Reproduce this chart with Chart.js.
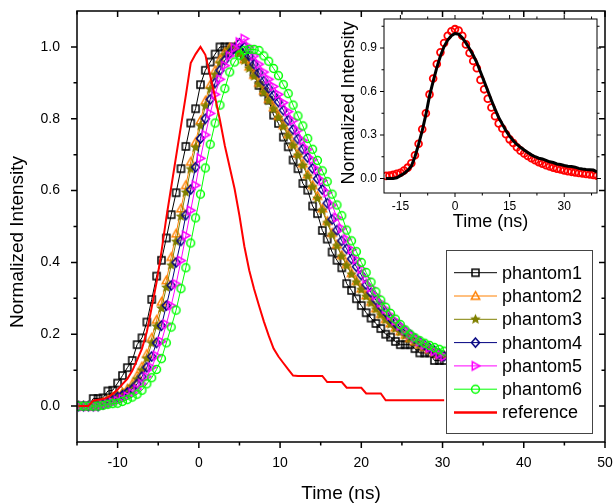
<!DOCTYPE html>
<html>
<head>
<meta charset="utf-8">
<script src="https://cdn.jsdelivr.net/npm/chart.js@4.4.1/dist/chart.umd.min.js"></script>
<style>
  html, body { margin: 0; padding: 0; background: #fff; }
  #wrap { position: relative; width: 616px; height: 504px; }
  #main { position: absolute; left: 0; top: 0; }
  #inset { position: absolute; left: 330px; top: 8px; }
</style>
</head>
<body>
<div id="wrap">
  <canvas id="main" width="616" height="504"></canvas>
  <canvas id="inset" width="275" height="225"></canvas>
</div>
<script>
'use strict';

// main panel: sample times (ns) and normalized intensities
const time = [
  -14.8, -14.2, -13.6, -13.0, -12.4, -11.8, -11.2, -10.6, -10.0, -9.4,
  -8.8, -8.2, -7.6, -7.0, -6.4, -5.8, -5.2, -4.6, -4.0, -3.4,
  -2.8, -2.2, -1.6, -1.0, -0.4, 0.2, 0.8, 1.4, 2.0, 2.6,
  3.2, 3.8, 4.4, 5.0, 5.6, 6.2, 6.8, 7.4, 8.0, 8.6,
  9.2, 9.8, 10.4, 11.0, 11.6, 12.2, 12.8, 13.4, 14.0, 14.6,
  15.2, 15.8, 16.4, 17.0, 17.6, 18.2, 18.8, 19.4, 20.0, 20.6,
  21.2, 21.8, 22.4, 23.0, 23.6, 24.2, 24.8, 25.4, 26.0, 26.6,
  27.2, 27.8, 28.4, 29.0, 29.6, 30.2
];
const phantom1 = [
  0, 0, 0, 0.021, 0.021, 0.023, 0.042, 0.044, 0.064, 0.085,
  0.107, 0.127, 0.171, 0.19, 0.234, 0.297, 0.362, 0.406, 0.468, 0.533,
  0.594, 0.661, 0.723, 0.788, 0.828, 0.895, 0.935, 0.958, 0.98, 1.0,
  1.0, 1.0, 0.995, 0.985, 0.975, 0.958, 0.925, 0.893, 0.875, 0.852,
  0.81, 0.787, 0.749, 0.722, 0.685, 0.661, 0.62, 0.601, 0.557, 0.536,
  0.489, 0.465, 0.429, 0.406, 0.385, 0.341, 0.322, 0.299, 0.28, 0.26,
  0.245, 0.23, 0.216, 0.2, 0.192, 0.18, 0.171, 0.171, 0.171, 0.16,
  0.148, 0.148, 0.148, 0.127, 0.127, 0.127
];
const phantom2 = [
  0, 0, 0, 0, 0.004, 0.01, 0.017, 0.025, 0.03, 0.038,
  0.048, 0.062, 0.085, 0.11, 0.145, 0.19, 0.24, 0.29, 0.35, 0.415,
  0.48, 0.55, 0.615, 0.68, 0.735, 0.795, 0.85, 0.895, 0.935, 0.965,
  0.985, 0.998, 1.0, 0.985, 0.965, 0.945, 0.922, 0.9, 0.878, 0.855,
  0.832, 0.808, 0.782, 0.757, 0.73, 0.703, 0.675, 0.645, 0.615, 0.585,
  0.55, 0.515, 0.482, 0.45, 0.42, 0.395, 0.37, 0.348, 0.327, 0.308,
  0.29, 0.272, 0.256, 0.242, 0.23, 0.218, 0.208, 0.198, 0.189, 0.18,
  0.172, 0.165, 0.158, 0.151, 0.145, 0.14
];
const phantom3 = [
  0, 0, 0, 0, 0.003, 0.008, 0.014, 0.02, 0.026, 0.033,
  0.042, 0.055, 0.075, 0.1, 0.132, 0.175, 0.222, 0.272, 0.33, 0.392,
  0.458, 0.528, 0.595, 0.66, 0.72, 0.78, 0.835, 0.882, 0.922, 0.955,
  0.978, 0.993, 0.998, 0.982, 0.962, 0.94, 0.918, 0.896, 0.873, 0.85,
  0.827, 0.803, 0.778, 0.752, 0.725, 0.698, 0.67, 0.64, 0.61, 0.578,
  0.545, 0.51, 0.477, 0.446, 0.417, 0.391, 0.367, 0.345, 0.324, 0.305,
  0.287, 0.27, 0.254, 0.24, 0.228, 0.216, 0.206, 0.196, 0.187, 0.179,
  0.171, 0.164, 0.157, 0.15, 0.144, 0.139
];
const phantom4 = [
  0, 0, 0, 0, 0, 0.005, 0.01, 0.017, 0.025, 0.03,
  0.038, 0.047, 0.062, 0.082, 0.108, 0.138, 0.176, 0.224, 0.28, 0.336,
  0.4, 0.46, 0.532, 0.603, 0.665, 0.745, 0.8, 0.854, 0.9, 0.935,
  0.963, 0.982, 0.997, 1.01, 1.0, 0.975, 0.952, 0.928, 0.905, 0.885,
  0.865, 0.847, 0.824, 0.796, 0.77, 0.744, 0.716, 0.692, 0.662, 0.633,
  0.603, 0.565, 0.52, 0.49, 0.46, 0.438, 0.41, 0.388, 0.365, 0.338,
  0.316, 0.295, 0.277, 0.261, 0.244, 0.231, 0.22, 0.209, 0.199, 0.188,
  0.179, 0.17, 0.162, 0.154, 0.146, 0.139
];
const phantom5 = [
  0, 0, 0, 0, 0, 0.003, 0.006, 0.01, 0.015, 0.02,
  0.027, 0.036, 0.047, 0.062, 0.082, 0.108, 0.14, 0.18, 0.228, 0.28,
  0.34, 0.405, 0.475, 0.545, 0.615, 0.69, 0.755, 0.815, 0.868, 0.91,
  0.948, 0.975, 0.997, 1.013, 1.023, 1.0, 0.975, 0.952, 0.93, 0.91,
  0.89, 0.868, 0.845, 0.82, 0.795, 0.768, 0.74, 0.715, 0.686, 0.658,
  0.628, 0.595, 0.56, 0.525, 0.495, 0.465, 0.436, 0.408, 0.382, 0.355,
  0.33, 0.308, 0.288, 0.27, 0.253, 0.238, 0.224, 0.212, 0.2, 0.19,
  0.18, 0.171, 0.162, 0.153, 0.145, 0.138
];
const phantom6 = [
  0, 0, 0, 0, 0, 0.002, 0.005, 0.007, 0.008, 0.013,
  0.018, 0.025, 0.033, 0.044, 0.062, 0.079, 0.102, 0.132, 0.176, 0.22,
  0.267, 0.327, 0.385, 0.454, 0.524, 0.59, 0.663, 0.729, 0.788, 0.838,
  0.884, 0.93, 0.958, 0.977, 0.99, 0.993, 0.993, 0.99, 0.975, 0.96,
  0.94, 0.92, 0.895, 0.87, 0.838, 0.808, 0.78, 0.745, 0.715, 0.684,
  0.655, 0.625, 0.59, 0.56, 0.53, 0.49, 0.46, 0.43, 0.40, 0.372,
  0.345, 0.318, 0.295, 0.275, 0.258, 0.242, 0.227, 0.212, 0.2, 0.19,
  0.182, 0.175, 0.169, 0.163, 0.158, 0.153
];
const reference = [
  0, 0, 0, 0.015, 0.018, 0.02, 0.024, 0.034, 0.046, 0.061,
  0.076, 0.098, 0.128, 0.16, 0.207, 0.275, 0.345, 0.43, 0.525, 0.61,
  0.695, 0.78, 0.865, 0.955, 0.98, 1.0, 0.978, 0.92, 0.86, 0.796,
  0.725, 0.665, 0.605, 0.53, 0.445, 0.378, 0.326, 0.28, 0.236, 0.196,
  0.16, 0.138, 0.12, 0.102, 0.085, 0.084, 0.084, 0.084, 0.084, 0.084,
  0.084, 0.067, 0.067, 0.067, 0.067, 0.051, 0.051, 0.051, 0.051, 0.035,
  0.035, 0.035, 0.035, 0.016, 0.016, 0.016, 0.016, 0.016, 0.016, 0.016,
  0.016, 0.016, 0.016, 0.016, 0.016, 0.016
];

// inset panel
const insetTime = [
  -19, -18, -17, -16, -15, -14, -13, -12, -11, -10,
  -9, -8, -7, -6, -5, -4, -3, -2, -1, 0,
  1, 2, 3, 4, 5, 6, 7, 8, 9, 10,
  11, 12, 13, 14, 15, 16, 17, 18, 19, 20,
  21, 22, 23, 24, 25, 26, 27, 28, 29, 30,
  31, 32, 33, 34, 35, 36, 37, 38, 39
];
const insetLine = [
  0, 0, 0, 0.005, 0.02, 0.035, 0.055, 0.085, 0.15, 0.235,
  0.33, 0.44, 0.57, 0.67, 0.765, 0.845, 0.91, 0.955, 0.985, 1.0,
  0.995, 0.97, 0.935, 0.895, 0.85, 0.8, 0.735, 0.67, 0.605, 0.54,
  0.478, 0.42, 0.375, 0.33, 0.292, 0.26, 0.235, 0.215, 0.197, 0.18,
  0.163, 0.15, 0.14, 0.135, 0.125, 0.115, 0.11, 0.1, 0.097, 0.09,
  0.085, 0.082, 0.078, 0.07, 0.065, 0.062, 0.06, 0.058, 0.045
];
const insetCircles = [
  0.018, 0.02, 0.025, 0.032, 0.04, 0.055, 0.075, 0.105, 0.16, 0.24,
  0.34, 0.45, 0.58, 0.69, 0.79, 0.87, 0.935, 0.985, 1.015, 1.03,
  1.02, 0.985, 0.925, 0.865, 0.81, 0.76, 0.68, 0.615, 0.55, 0.49,
  0.43, 0.38, 0.345, 0.305, 0.27, 0.245, 0.215, 0.192, 0.172, 0.155,
  0.14, 0.126, 0.113, 0.102, 0.092, 0.083, 0.075, 0.068, 0.062, 0.055,
  0.05, 0.046, 0.042, 0.038, 0.035, 0.031, 0.028, 0.024, 0.02
];

// tick labels
const mainXTicks = [-10, 0, 10, 20, 30, 40, 50];
const mainYTicks = [0, 0.2, 0.4, 0.6, 0.8, 1.0];
const insetXTicks = [-15, 0, 15, 30];
const insetYTicks = [0, 0.3, 0.6, 0.9];

const FONT = "'Liberation Sans', Arial, sans-serif";
Chart.defaults.color = '#000';
Chart.defaults.font.family = FONT;

function pairs(xs, ys){ return xs.map((x, i) => ({ x, y: ys[i] })); }

function makeMarker(kind, color){
  const s = 13, c = document.createElement('canvas');
  c.width = s; c.height = s;
  const g = c.getContext('2d'), m = s / 2;
  g.strokeStyle = color; g.fillStyle = color; g.lineWidth = 1.5;
  g.beginPath();
  if(kind === 'square'){ g.rect(m - 3.5, m - 3.5, 7, 7); g.stroke(); }
  else if(kind === 'triUp'){ g.moveTo(m, m - 4.3); g.lineTo(m + 4.2, m + 3.2); g.lineTo(m - 4.2, m + 3.2); g.closePath(); g.stroke(); }
  else if(kind === 'triRight'){ g.moveTo(m + 4.3, m); g.lineTo(m - 3.2, m + 4.2); g.lineTo(m - 3.2, m - 4.2); g.closePath(); g.stroke(); }
  else if(kind === 'diamond'){ g.moveTo(m, m - 4.6); g.lineTo(m + 4, m); g.lineTo(m, m + 4.6); g.lineTo(m - 4, m); g.closePath(); g.stroke(); }
  else if(kind === 'circle'){ g.arc(m, m, 3.9, 0, Math.PI * 2); g.stroke(); }
  else if(kind === 'star'){
    for(let i = 0; i < 10; i++){
      const r = i % 2 ? 2.6 : 5.6, a = -Math.PI / 2 + i * Math.PI / 5;
      g.lineTo(m + r * Math.cos(a), m + r * Math.sin(a));
    }
    g.closePath(); g.fill();
  }
  return c;
}

// frame with minor/major ticks; dir: +1 = towards larger pixel coordinate
function frameTicks(o){
  return {
    id: 'frameTicks',
    afterDatasetsDraw(chart){
      const { ctx, chartArea: a, scales } = chart;
      const isMajor = (list, v) => list.some(t => Math.abs(t - v) < 1e-6);
      ctx.save();
      ctx.strokeStyle = '#000';
      ctx.lineWidth = o.lw;
      ctx.beginPath();
      for(let k = 0; k < o.x.count; k++){
        const v = o.x.from + k * o.x.step, px = scales.x.getPixelForValue(v);
        const len = isMajor(o.x.major, v) ? o.majorLen : o.minorLen;
        ctx.moveTo(px, a.bottom); ctx.lineTo(px, a.bottom + len * o.bottomDir);
        ctx.moveTo(px, a.top); ctx.lineTo(px, a.top + len * o.topDir);
      }
      for(let k = 0; k < o.y.count; k++){
        const v = o.y.from + k * o.y.step, py = scales.y.getPixelForValue(v);
        const len = isMajor(o.y.major, v) ? o.majorLen : o.minorLen;
        ctx.moveTo(a.left, py); ctx.lineTo(a.left + len * o.leftDir, py);
        ctx.moveTo(a.right, py); ctx.lineTo(a.right + len * o.rightDir, py);
      }
      ctx.stroke();
      ctx.strokeRect(a.left, a.top, a.right - a.left, a.bottom - a.top);
      ctx.restore();
    }
  };
}

function axisTitles(o){
  return {
    id: 'axisTitles',
    afterDraw(chart){
      const { ctx, chartArea: a } = chart;
      ctx.save();
      ctx.fillStyle = '#000';
      ctx.font = o.size + 'px ' + FONT;
      ctx.textAlign = 'center';
      ctx.textBaseline = 'middle';
      ctx.fillText(o.x, (a.left + a.right) / 2, o.xY);
      ctx.translate(o.yX, o.yY);
      ctx.rotate(-Math.PI / 2);
      ctx.fillText(o.y, 0, 0);
      ctx.restore();
    }
  };
}

const boxLegend = {
  id: 'boxLegend',
  afterDraw(chart){
    const ctx = chart.ctx;
    const box = { x: 446, y: 250, w: 146, h: 183 };
    ctx.save();
    ctx.fillStyle = '#fff';
    ctx.fillRect(box.x, box.y, box.w, box.h);
    ctx.strokeStyle = '#444';
    ctx.lineWidth = 1;
    ctx.strokeRect(box.x + 0.5, box.y + 0.5, box.w, box.h);
    ctx.font = '18px ' + FONT;
    ctx.textBaseline = 'middle';
    chart.data.datasets.forEach((ds, i) => {
      const yy = 272.7 + i * 23.3;
      ctx.strokeStyle = ds.borderColor;
      ctx.lineWidth = ds.borderWidth === 2 ? 2.5 : ds.borderWidth;
      ctx.beginPath(); ctx.moveTo(454, yy); ctx.lineTo(497, yy); ctx.stroke();
      if(ds.pointStyle instanceof HTMLCanvasElement){
        const img = ds.pointStyle;
        ctx.drawImage(img, 475.5 - img.width / 2, yy - img.height / 2);
      }
      ctx.fillStyle = '#000';
      ctx.fillText(ds.label, 502, yy + 1);
    });
    ctx.restore();
  }
};

// keep tick-label padding out of the layout margins
const noPadX = s => { s.paddingLeft = 0; s.paddingRight = 0; };
const noPadY = s => { s.paddingTop = 0; s.paddingBottom = 0; };
const noGrid = { display: false, drawTicks: false };

function series(label, ys, color, marker, order){
  return {
    label, data: pairs(time, ys), borderColor: color, borderWidth: 1,
    pointStyle: marker ? makeMarker(marker, color) : false,
    pointRadius: marker ? 4 : 0, tension: 0, order
  };
}

new Chart(document.getElementById('main'), {
  type: 'line',
  data: {
    datasets: [
      series('phantom1', phantom1, '#000000', 'square', 7),
      series('phantom2', phantom2, '#ff8000', 'triUp', 6),
      series('phantom3', phantom3, '#808000', 'star', 5),
      series('phantom4', phantom4, '#000080', 'diamond', 4),
      series('phantom5', phantom5, '#ff00ff', 'triRight', 3),
      series('phantom6', phantom6, '#00ff00', 'circle', 2),
      Object.assign(series('reference', reference, '#ff0000', null, 1), { borderWidth: 2 })
    ]
  },
  options: {
    responsive: false,
    animation: false,
    events: [],
    layout: { padding: { top: 11, right: 11, left: 0, bottom: 0 } },
    plugins: { legend: { display: false }, tooltip: { enabled: false } },
    scales: {
      x: {
        type: 'linear', min: -15, max: 50,
        grid: noGrid, border: { display: false },
        afterFit: s => { s.height = 62; noPadX(s); },
        afterBuildTicks: s => { s.ticks = mainXTicks.map(v => ({ value: v })); },
        ticks: { autoSkip: false, maxRotation: 0, padding: 13, font: { size: 14 }, callback: v => String(v) }
      },
      y: {
        type: 'linear', min: -0.1, max: 1.1,
        grid: noGrid, border: { display: false },
        afterFit: s => { s.width = 77; noPadY(s); },
        afterBuildTicks: s => { s.ticks = mainYTicks.map(v => ({ value: v })); },
        ticks: { autoSkip: false, padding: 17, font: { size: 14 }, callback: v => Number(v).toFixed(1) }
      }
    }
  },
  plugins: [
    frameTicks({ lw: 1.5, majorLen: 6, minorLen: 3.5, bottomDir: 1, topDir: 1, leftDir: -1, rightDir: -1,
      x: { from: -15, step: 5, count: 14, major: mainXTicks },
      y: { from: 0, step: 0.1, count: 11, major: mainYTicks } }),
    axisTitles({ x: 'Time (ns)', y: 'Normalized Intensity', size: 19, xY: 494, yX: 18, yY: 242 }),
    boxLegend
  ]
});

new Chart(document.getElementById('inset'), {
  type: 'line',
  data: {
    datasets: [
      { label: 'line', data: pairs(insetTime, insetLine), borderColor: '#000', borderWidth: 3,
        pointRadius: 0, tension: 0, order: 1 },
      { label: 'circles', data: pairs(insetTime, insetCircles), borderColor: '#ff0000', borderWidth: 1.8,
        backgroundColor: 'rgba(0,0,0,0)', showLine: false, pointStyle: 'circle', pointRadius: 3.4, order: 2 }
    ]
  },
  options: {
    responsive: false,
    animation: false,
    events: [],
    layout: { padding: { top: 11, right: 8, left: 0, bottom: 0 } },
    plugins: { legend: { display: false }, tooltip: { enabled: false } },
    scales: {
      x: {
        type: 'linear', min: -19.5, max: 39,
        grid: noGrid, border: { display: false },
        afterFit: s => { s.height = 40; noPadX(s); },
        afterBuildTicks: s => { s.ticks = insetXTicks.map(v => ({ value: v })); },
        ticks: { autoSkip: false, maxRotation: 0, padding: 6, font: { size: 12 }, callback: v => String(v) }
      },
      y: {
        type: 'linear', min: -0.1, max: 1.1,
        grid: noGrid, border: { display: false },
        afterFit: s => { s.width = 54; noPadY(s); },
        afterBuildTicks: s => { s.ticks = insetYTicks.map(v => ({ value: v })); },
        ticks: { autoSkip: false, padding: 7, font: { size: 12 }, callback: v => Number(v).toFixed(1) }
      }
    }
  },
  plugins: [
    frameTicks({ lw: 1, majorLen: 4, minorLen: 2.5, bottomDir: 1, topDir: -1, leftDir: -1, rightDir: 1,
      x: { from: -15, step: 7.5, count: 8, major: insetXTicks },
      y: { from: 0, step: 0.15, count: 8, major: insetYTicks } }),
    axisTitles({ x: 'Time (ns)', y: 'Normalized Intensity', size: 18, xY: 214, yX: 19, yY: 95 })
  ]
});
</script>
</body>
</html>
